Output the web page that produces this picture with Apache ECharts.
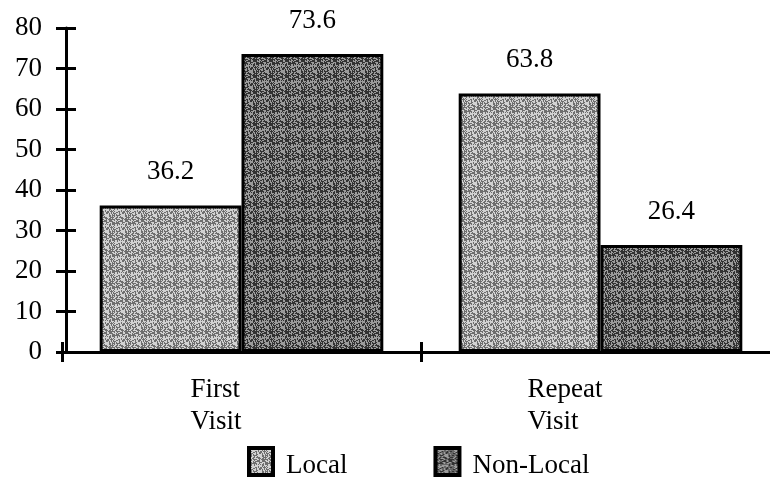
<!DOCTYPE html>
<html><head><meta charset="utf-8">
<script src="https://cdn.jsdelivr.net/npm/echarts@6/dist/echarts.min.js"></script>
<style>html,body{margin:0;padding:0;background:#fff;overflow:hidden}#c{width:780px;height:481px}</style>
</head><body><div id="c"></div>
<script>
const categories = ['First\nVisit', 'Repeat\nVisit'];
const seriesNames = ['Local', 'Non-Local'];
const localValues = [36.2, 63.8];
const nonLocalValues = [73.6, 26.4];
const yMin = 0, yMax = 80, yInterval = 10;

// halftone-like fill textures (style only, deterministic hash dither)
function makeTexture(lo, hi, frac) {
  const n = 16;
  const cv = document.createElement('canvas');
  cv.width = n; cv.height = n;
  const ctx = cv.getContext('2d');
  for (let r = 0; r < n; r++) for (let c = 0; c < n; c++) {
    let h = (r * 374761393 + c * 668265263) >>> 0;
    h = ((h ^ (h >>> 13)) * 1274126177) >>> 0;
    const t = (h & 1023) / 1023;
    const g = t < frac ? lo : hi;
    ctx.fillStyle = 'rgb(' + g + ',' + g + ',' + g + ')';
    ctx.fillRect(c, r, 1, 1);
  }
  return cv;
}
const lightTex = makeTexture(110, 210, 0.45);
const darkTex = makeTexture(50, 155, 0.5);

const FONT = 'Liberation Serif';
const FS = 27;
const chart = echarts.init(document.getElementById('c'));
const yBase = {type: 'value', min: yMin, max: yMax, interval: yInterval, position: 'left', offset: -4, splitLine: {show: false}};
const xBase = {type: 'category', data: categories, position: 'bottom'};
chart.setOption({
  animation: false,
  backgroundColor: '#fff',
  grid: {left: 62, top: 28, bottom: 129, right: 0, containLabel: false},
  legend: {
    data: seriesNames, left: 247, top: 446, padding: 0, itemWidth: 24, itemHeight: 27, itemGap: 86, icon: 'rect',
    itemStyle: {borderColor: '#000', borderWidth: 4},
    formatter: name => '{t|' + name + '}',
    textStyle: {fontFamily: FONT, fontSize: FS, color: '#000', padding: [0, 0, 0, 8],
      rich: {t: {fontFamily: FONT, fontSize: FS, color: '#000', padding: [8, 0, 0, 0]}}}
  },
  xAxis: [
    Object.assign({}, xBase, {
      axisLine: {lineStyle: {color: '#000', width: 3}},
      axisTick: {show: true, inside: false, length: 10, lineStyle: {color: '#000', width: 3}},
      axisLabel: {
        margin: 22,
        formatter: (v, i) => v.split('\n').map(s => '{' + (i === 0 ? 'a' : 'b') + '|' + s + '}').join('\n'),
        rich: {
          a: {width: 102, align: 'left', fontFamily: FONT, fontSize: FS, lineHeight: 32, color: '#000'},
          b: {width: 146, align: 'left', fontFamily: FONT, fontSize: FS, lineHeight: 32, color: '#000'}
        }
      }
    }),
    Object.assign({}, xBase, {
      axisLine: {show: false},
      axisTick: {show: true, inside: true, length: 10, lineStyle: {color: '#000', width: 3}},
      axisLabel: {show: false}
    })
  ],
  yAxis: [
    Object.assign({}, yBase, {
      axisLine: {show: true, lineStyle: {color: '#000', width: 3}},
      axisTick: {show: true, inside: false, length: 10, lineStyle: {color: '#000', width: 3}},
      axisLabel: {margin: 24, fontFamily: FONT, fontSize: FS, color: '#000'}
    }),
    Object.assign({}, yBase, {
      axisLine: {show: false},
      axisTick: {show: true, inside: true, length: 10, lineStyle: {color: '#000', width: 3}},
      axisLabel: {show: false}
    })
  ],
  series: [
    {name: seriesNames[0], type: 'bar', data: localValues, barGap: '0%', barCategoryGap: '21%',
     itemStyle: {color: {image: lightTex, repeat: 'repeat'}, borderColor: '#000', borderWidth: 3},
     label: {show: true, position: 'top', distance: 20, fontFamily: FONT, fontSize: FS, color: '#000'}},
    {name: seriesNames[1], type: 'bar', data: nonLocalValues, barGap: '0%', barCategoryGap: '21%',
     itemStyle: {color: {image: darkTex, repeat: 'repeat'}, borderColor: '#000', borderWidth: 3},
     label: {show: true, position: 'top', distance: 20, fontFamily: FONT, fontSize: FS, color: '#000'}}
  ]
});
</script></body></html>
